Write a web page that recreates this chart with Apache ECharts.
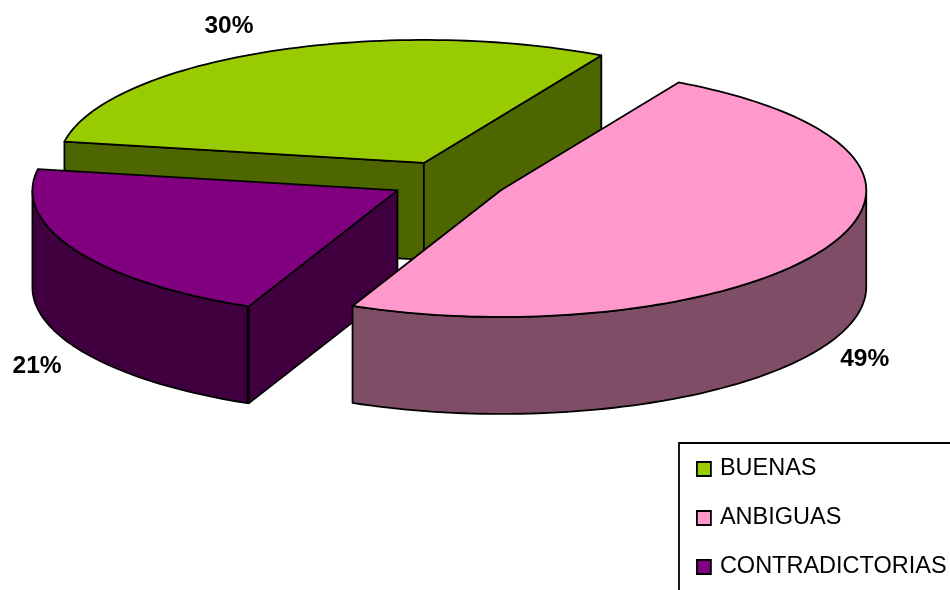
<!DOCTYPE html>
<html>
<head>
<meta charset="utf-8">
<style>html,body{margin:0;padding:0;background:#fff;overflow:hidden}#c{width:950px;height:590px}</style>
<script src="https://cdn.jsdelivr.net/npm/echarts@6/dist/echarts.min.js"></script>
</head>
<body>
<div id="c"></div>
<script>
// Data
const categories = ['BUENAS', 'ANBIGUAS', 'CONTRADICTORIAS'];
const shares = [30.3, 48.6, 21.1];

// Style
const topColors = ['#99CC00', '#FF99CC', '#800080'];
const wallColors = ['#4D6600', '#804D66', '#400040'];
const drawOrder = [0, 2, 1];
const labelShift = [[-38, -26], [37, 16], [-38, 19]];

// Layout of the tilted pie
const centre = [449, 181], radiusX = 365, radiusUp = 123, radiusDown = 127, depth = 97;
const explode = 0.16, startDeg = 170;

const total = shares.reduce((a, b) => a + b, 0);
const toRad = d => d * Math.PI / 180;
function sliceAngles(i) {
  const before = shares.slice(0, i).reduce((a, b) => a + b, 0);
  const from = startDeg - before / total * 360;
  return [from, from - shares[i] / total * 360];
}
function rimPoint(o, deg, rx = radiusX) {
  const s = Math.sin(toRad(deg));
  return [o[0] + Math.cos(toRad(deg)) * rx, o[1] - s * (s > 0 ? radiusUp : radiusDown)];
}
function arc(o, a, b) {
  const n = Math.max(2, Math.ceil(Math.abs(a - b) / 1.5)), pts = [];
  for (let k = 0; k <= n; k++) pts.push(rimPoint(o, a + (b - a) * k / n));
  return pts;
}
const down = p => [p[0], p[1] + depth];
const stroke = { stroke: '#000', lineWidth: 1.8, lineJoin: 'round' };

function renderSlice(i) {
  const [from, to] = sliceAngles(i);
  const mid = (from + to) / 2;
  const apex = [
    centre[0] + Math.cos(toRad(mid)) * radiusX * explode,
    centre[1] - Math.sin(toRad(mid)) * (radiusUp + radiusDown) / 2 * explode
  ];
  const rim = arc(apex, from, to);
  const children = [];
  const poly = (pts, fill) => children.push({
    type: 'polygon', shape: { points: pts }, style: Object.assign({ fill }, stroke)
  });
  const face = (a, b) => poly([a, b, down(b), down(a)], wallColors[i]);

  // The slice runs clockwise on screen, so a cut face looks toward the viewer
  // when its edge travels leftward along that direction.
  const first = rim[0], last = rim[rim.length - 1];
  if (first[0] < apex[0]) face(apex, first);
  if (last[0] > apex[0]) face(last, apex);

  // Outer wall: only the part of the arc on the near half of the ellipse
  const norm = d => ((d % 360) + 360) % 360;
  const lo = Math.min(from, to), hi = Math.max(from, to);
  let a = null, b = null;
  for (let d = lo; d <= hi; d += 0.25) {
    if (norm(d) >= 180) { if (a === null) a = d; b = d; }
  }
  if (a !== null) {
    const front = arc(apex, a, b);
    poly(front.concat(front.slice().reverse().map(down)), wallColors[i]);
  }
  // Top
  poly([apex].concat(rim), topColors[i]);
  // Percentage label, outside the rim at the middle of the slice
  const isBack = Math.sin(toRad(mid)) > 0;
  const pos = isBack ? rimPoint(apex, mid) : down(rimPoint(apex, mid));
  children.push({
    type: 'text',
    style: {
      x: pos[0] + labelShift[i][0], y: pos[1] + labelShift[i][1],
      text: Math.round(shares[i] / total * 100) + '%',
      fill: '#000', font: 'bold 24.5px "Liberation Sans", Arial, sans-serif',
      align: 'center', verticalAlign: 'middle'
    }
  });
  return { type: 'group', children };
}

const chart = echarts.init(document.getElementById('c'), null, { renderer: 'canvas' });
chart.setOption({
  animation: false,
  backgroundColor: '#fff',
  tooltip: { show: false },
  legend: {
    orient: 'vertical',
    left: 679, top: 443, width: 400, height: 300,
    data: categories,
    icon: 'rect',
    itemWidth: 14, itemHeight: 14, itemGap: 23,
    padding: [13, 30, 40, 17],
    borderColor: '#000', borderWidth: 1.8,
    selectedMode: false,
    itemStyle: { borderColor: '#000', borderWidth: 1.8 },
    textStyle: { fontFamily: '"Liberation Sans", Arial, sans-serif', fontSize: 23.5, color: '#000', padding: [0, 0, 0, 4], lineHeight: 26 }
  },
  series: drawOrder.map(i => ({
    type: 'custom',
    name: categories[i],
    coordinateSystem: 'none',
    itemStyle: { color: topColors[i] },
    data: [shares[i]],
    renderItem: () => renderSlice(i)
  }))
});
</script>
</body>
</html>
